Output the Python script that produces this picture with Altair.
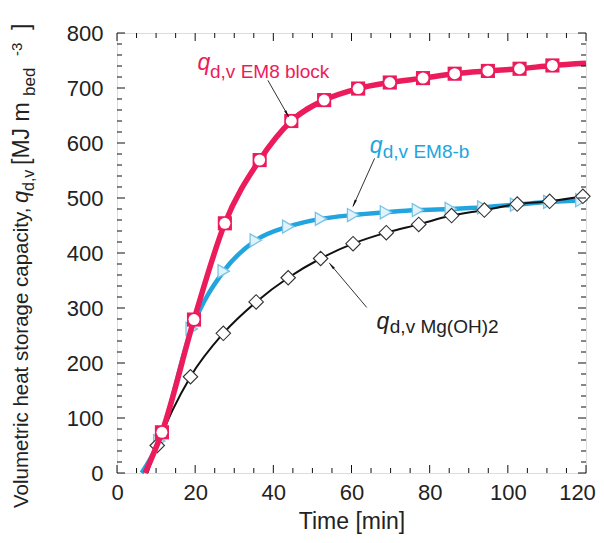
import math
import altair as alt
import pandas as pd

FONT = "Liberation Sans"
RED = "#EC1C5C"
BLUE = "#22A5DE"

# ---------------- data ----------------
# EM8 block (red, square+circle markers)
red_t = [11.5, 19.7, 27.6, 36.5, 44.6, 53.0, 61.7, 69.8, 78.3, 86.4, 94.9, 103.0, 111.4]
red_v = [74, 279, 454, 569, 640, 678, 699, 710, 718, 726, 731, 735, 741]
red_line_t = [7.2] + red_t + [120.0]
red_line_v = [0] + red_v + [745]

# EM8-b (blue, right triangles)
blue_t = [10.8, 19.1, 27.3, 35.5, 43.8, 52.2, 60.4, 68.8, 77.0, 85.4, 93.7, 102.1, 110.6, 118.8]
blue_v = [58, 262, 367, 423, 448, 462, 469, 474, 478, 480, 483, 488, 493, 496]
blue_line_t = [6.3] + blue_t + [120.0]
blue_line_v = [0] + blue_v + [497]

# Mg(OH)2 (black, diamonds)
blk_t = [10.3, 18.8, 27.2, 35.6, 43.8, 52.1, 60.4, 68.9, 77.2, 85.6, 94.0, 102.4, 110.7, 119.2]
blk_v = [50, 175, 254, 311, 355, 390, 417, 437, 452, 468, 478, 489, 494, 503]
blk_line_t = [7.8] + blk_t + [120.0]
blk_line_v = [0] + blk_v + [504]

x_major = [0, 20, 40, 60, 80, 100, 120]
x_minor = [v for v in range(0, 121, 5) if v % 20 != 0]
y_major = [0, 100, 200, 300, 400, 500, 600, 700, 800]
y_minor = [v for v in range(0, 801, 20) if v % 100 != 0]

# annotation arrows: (start t, start v, tip t, tip v)
arrows = [
    (38.6, 714, 43.9, 648),
    (65.9, 572, 60.4, 485),
    (63.9, 301, 54.4, 381),
]
# curve labels: (q t, q v, sub t, sub v, subscript text, colour)
labels = [
    (20.6, 732, 23.8, 719, "d,v EM8 block", RED),
    (64.7, 581, 68.0, 572, "d,v EM8-b", BLUE),
    (66.4, 261, 69.8, 254, "d,v Mg(OH)2", "#222222"),
]

W, H = 469, 440
XD, YD = [0, 120], [0, 800]
px_per_t = W / (XD[1] - XD[0])
px_per_v = H / (YD[1] - YD[0])

xs = alt.Scale(domain=XD, nice=False, zero=False)
ys = alt.Scale(domain=YD, nice=False, zero=False)

AX = alt.Axis(values=x_major, ticks=False, tickSize=0, domain=False, grid=False,
              labelFont=FONT, labelFontSize=22, labelColor="#222", labelPadding=9,
              labelFlush=False, labelOverlap=False,
              labelOffset={"condition": {"test": "datum.value == 120", "value": -9}, "value": 0},
              title="Time [min]", titleFont=FONT, titleFontSize=23,
              titleFontWeight="normal", titleColor="#222", titlePadding=7)
AY = alt.Axis(values=y_major, ticks=False, tickSize=0, domain=False, grid=False,
              labelFont=FONT, labelFontSize=22, labelColor="#222", labelPadding=14,
              labelFlush=False, labelOverlap=False, title=None)


def X(field="t"):
    return alt.X(f"{field}:Q", scale=xs, axis=AX, title="Time [min]")


def Y(field="v"):
    return alt.Y(f"{field}:Q", scale=ys, axis=AY, title=None)


def df(t, v):
    return pd.DataFrame({"t": t, "v": v})


layers = []

# blue line
layers.append(alt.Chart(df(blue_line_t, blue_line_v)).mark_line(
    interpolate="monotone", color=BLUE, strokeWidth=4.5).encode(x=X(), y=Y()))
# black line
layers.append(alt.Chart(df(blk_line_t, blk_line_v)).mark_line(
    interpolate="monotone", color="#111", strokeWidth=2).encode(x=X(), y=Y()))
# blue triangles
layers.append(alt.Chart(df(blue_t, blue_v)).mark_point(
    shape="triangle-right", filled=True, fill="#e2f2fb", stroke="#79c4e6",
    strokeWidth=1.3, size=170, opacity=1).encode(x=X(), y=Y()))
# black diamonds
layers.append(alt.Chart(df(blk_t, blk_v)).mark_point(
    shape="diamond", filled=True, fill="white", stroke="#333",
    strokeWidth=1.1, size=210, opacity=1).encode(x=X(), y=Y()))
# red line
layers.append(alt.Chart(df(red_line_t, red_line_v)).mark_line(
    interpolate="monotone", color=RED, strokeWidth=5.5).encode(x=X(), y=Y()))
# red squares + white circles
layers.append(alt.Chart(df(red_t, red_v)).mark_point(
    shape="square", filled=True, color=RED, size=200, opacity=1).encode(x=X(), y=Y()))
layers.append(alt.Chart(df(red_t, red_v)).mark_point(
    shape="circle", filled=True, color="white", size=120, opacity=1).encode(x=X(), y=Y()))


# inward ticks on all four sides
def xticks(vals, length, top):
    y0, y1 = (0, length) if top else (H - length, H)
    return alt.Chart(pd.DataFrame({"t": vals})).mark_rule(color="#111", strokeWidth=1).encode(
        x=X(), y=alt.value(y0), y2=alt.value(y1))


def yticks(vals, length, right):
    x0, x1 = (W - length, W) if right else (0, length)
    return alt.Chart(pd.DataFrame({"v": vals})).mark_rule(color="#111", strokeWidth=1).encode(
        y=Y(), x=alt.value(x0), x2=alt.value(x1))


for top in (False, True):
    layers.append(xticks(x_major, 8, top))
    layers.append(xticks(x_minor, 5, top))
for right in (False, True):
    layers.append(yticks(y_major, 8, right))
    layers.append(yticks(y_minor, 5, right))

# arrows
arr = pd.DataFrame(arrows, columns=["t", "v", "t2", "v2"])
head_rows = []
for t, v, t2, v2 in arrows:
    dx = (t2 - t) * px_per_t
    dy = -(v2 - v) * px_per_v
    L = math.hypot(dx, dy)
    ux, uy = dx / L, dy / L
    ang = math.degrees(math.atan2(ux, -uy)) % 360
    back = 4.0
    head_rows.append({"t": t2 - ux * back / px_per_t, "v": v2 + uy * back / px_per_v, "a": ang})
heads = pd.DataFrame(head_rows)
layers.append(alt.Chart(arr).mark_rule(color="#333", strokeWidth=1).encode(
    x=X(), y=Y(), x2="t2:Q", y2="v2:Q"))
layers.append(alt.Chart(heads).mark_point(shape="wedge", filled=True, color="#111",
                                          size=90, opacity=1).encode(
    x=X(), y=Y(), angle=alt.Angle("a:Q", scale=None)))

# curve labels
for qt, qv, st, sv, sub, col in labels:
    layers.append(alt.Chart(pd.DataFrame({"t": [qt], "v": [qv], "s": ["q"]})).mark_text(
        align="left", baseline="alphabetic", font=FONT, fontSize=23, fontStyle="italic",
        color=col).encode(x=X(), y=Y(), text="s:N"))
    layers.append(alt.Chart(pd.DataFrame({"t": [st], "v": [sv], "s": [sub]})).mark_text(
        align="left", baseline="alphabetic", font=FONT, fontSize=19,
        color=col).encode(x=X(), y=Y(), text="s:N"))

# rotated y-axis title built from pieces (sub/superscripts); offsets relative to plot origin
ytitle = [
    ("Volumetric heat  storage capacity,", -95, 475, 20.5, "normal"),
    ("q", -96, 170, 22, "italic"),
    ("d,v", -88, 158, 16, "normal"),
    ("[MJ m", -95, 132, 23, "normal"),
    ("bed", -87, 63, 17, "normal"),
    ("-3", -100, 23, 15, "normal"),
    ("]", -95, -3, 23, "normal"),
]
for s, px, py, fs, st in ytitle:
    layers.append(alt.Chart(pd.DataFrame({"s": [s]})).mark_text(
        angle=270, align="left", baseline="middle", font=FONT, fontSize=fs,
        fontStyle=st, color="#222").encode(x=alt.value(px), y=alt.value(py), text="s:N"))

chart = alt.layer(*layers).properties(
    width=W, height=H,
    autosize=alt.AutoSizeParams(type="none"),
    padding={"left": 109, "top": 25, "right": 10, "bottom": 62},
).configure_view(stroke="#111", strokeWidth=1.3).configure(background="white")

chart.save("out.html", embed_options={"renderer": "svg", "actions": False})
